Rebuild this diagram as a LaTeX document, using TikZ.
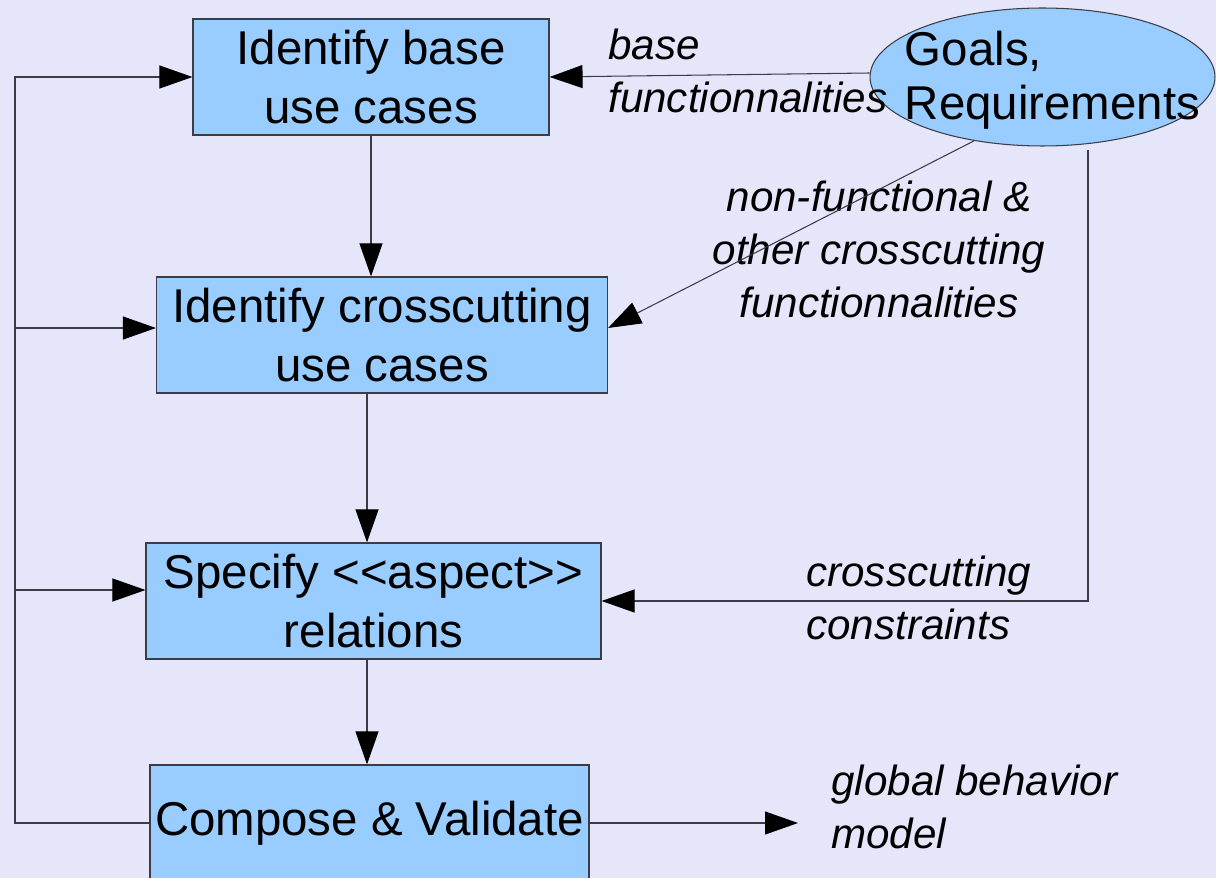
\documentclass[tikz,border=0pt]{standalone}
\usepackage{fontspec}
\setmainfont{Liberation Sans}
\usetikzlibrary{shapes.geometric, arrows.meta}
\definecolor{pagebgcolor}{RGB}{230,230,250}
\definecolor{boxbgcolor}{RGB}{153,204,255}
\definecolor{linecolor}{RGB}{60,60,70}

\begin{document}
\begin{tikzpicture}[x=0.02cm, y=-0.02cm,
    usecase/.style={draw=linecolor, fill=boxbgcolor, line width=0.7pt, align=center,
      inner sep=0pt, minimum height=2.32cm, font=\fontsize{27pt}{34pt}\selectfont},
    goal/.style={ellipse, draw=linecolor, fill=boxbgcolor, line width=0.6pt, inner sep=0pt},
    flowlabel/.style={inner sep=0pt, font=\fontsize{24pt}{30pt}\selectfont\itshape},
    flow/.style={draw=linecolor, line width=0.6pt,
      -{Triangle[length=0.66cm, width=0.46cm, color=black]}}]

    \path[use as bounding box, fill=pagebgcolor] (0,0) rectangle (1216,878);

    % use case steps
    \node [usecase, minimum width=7.12cm] (base) at (371,77) {Identify base\\use cases};
    \node [usecase, minimum width=9.02cm] (cross) at (382,335) {Identify crosscutting\\use cases};
    \node [usecase, minimum width=9.1cm] (spec) at (373.5,601) {Specify <{}<aspect>{}>\\relations};
    \node [usecase, minimum width=8.78cm] (comp) at (369.5,823) {Compose \& Validate};

    % goals
    \node [goal, minimum width=6.9cm, minimum height=2.76cm,
      label={[inner sep=0pt, xshift=0.2cm, yshift=-0.06cm, align=left,
        font=\fontsize{27pt}{30.5pt}\selectfont]center:Goals,\\Requirements}]
      (goals) at (1042.5,77) {};

    % labels
    \node [flowlabel, anchor=north west, align=left] (baselbl) at (608,29) {base\\functionnalities};
    \node [flowlabel, anchor=north, align=center] (nfrlbl) at (879,181)
      {non-functional \&\\other crosscutting\\functionnalities};
    \node [flowlabel, anchor=north west, align=left] (cclbl) at (806,556) {crosscutting\\constraints};
    \node [flowlabel, anchor=north west, align=left] (outlbl) at (831,765) {global behavior\\model};

    \coordinate (loop) at (15,823);
    \coordinate (reqdrop) at (1088,150);
    \coordinate (modelout) at (798,823);
    \coordinate (midline) at (367,0);
    \coordinate (reqout) at ([yshift=0.08cm]goals.west);
    \coordinate (crossin) at ([yshift=0.14cm]cross.west);
    \coordinate (specin) at ([yshift=0.22cm]spec.west);

    % flows
    \draw [flow] (reqout) -- (base.east);
    \draw [flow] (base.south) -- (base.south |- cross.north);
    \draw [flow] (goals.223.5) -- ([yshift=0.14cm]cross.east);
    \draw [flow] (cross.south -| midline) -- (spec.north -| midline);
    \draw [flow] (spec.south -| midline) -- (comp.north -| midline);
    \draw [flow] (reqdrop) |- (spec.east);
    \draw [flow] (comp.west) -- (loop) |- (base.west);
    \draw [flow] (loop |- crossin) -- (crossin);
    \draw [flow] (loop |- specin) -- (specin);
    \draw [flow] (comp.east) -- (modelout);
\end{tikzpicture}
\end{document}
